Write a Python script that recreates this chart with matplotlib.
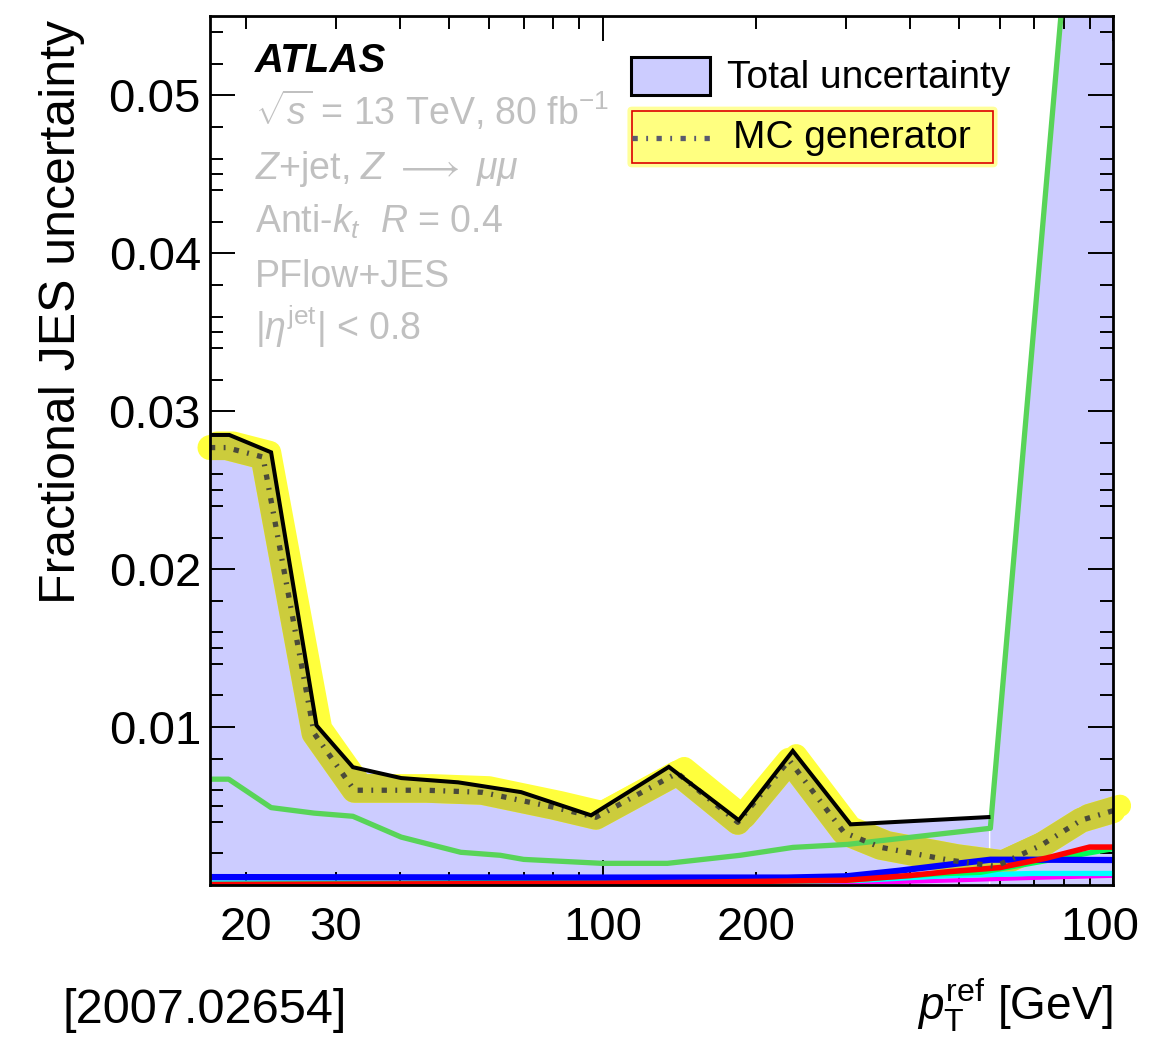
import numpy as np
import matplotlib
matplotlib.use('Agg')
import matplotlib.pyplot as plt
from matplotlib.path import Path
from matplotlib.patches import Rectangle, FancyBboxPatch
from matplotlib.ticker import FixedLocator, NullFormatter, FixedFormatter
from matplotlib.transforms import Bbox, TransformedBbox, offset_copy

plt.rcParams['font.family'] = 'Liberation Sans'
plt.rcParams['mathtext.fontset'] = 'custom'
plt.rcParams['mathtext.rm'] = 'Liberation Sans'
plt.rcParams['mathtext.it'] = 'Liberation Sans:italic'
plt.rcParams['mathtext.bf'] = 'Liberation Sans:bold'

# values (pT in GeV, fractional uncertainty)
total_pt = [17.0, 18.55, 22.4, 27.5, 32.4, 40.3, 52.1, 69.2, 94.9, 134.8, 184.8, 235.8, 306, 570]
total_unc = [0.0285, 0.0285, 0.0274, 0.0101, 0.00746, 0.00677, 0.0065, 0.00588, 0.00441,
             0.00748, 0.0041, 0.00849, 0.00384, 0.0043]

mc_pt = [17.0, 18.3, 21.6, 27.2, 32.6, 45, 58, 80, 97, 140, 184, 232, 297, 350, 480, 589, 722, 866, 1000]
mc_unc = [0.0277, 0.0277, 0.0271, 0.0096, 0.0060, 0.0060, 0.00587, 0.00493, 0.00429, 0.00709,
          0.00397, 0.0079, 0.00333, 0.00239, 0.00156, 0.00118, 0.0025, 0.0041, 0.0047]

green_pt = [17.0, 18.5, 22.4, 27.2, 32.4, 40.3, 52.7, 63, 70, 99.6, 134, 186, 236, 302, 575, 1000]
green_unc = [0.0067, 0.0067, 0.0049, 0.00455, 0.00435, 0.00303, 0.00207, 0.00188, 0.00162,
             0.00137, 0.00137, 0.00188, 0.00238, 0.00257, 0.00359, 0.093]

blue_pt = [17.0, 100, 230, 300, 380, 480, 575, 700, 1000]
blue_unc = [0.0005, 0.00047, 0.00047, 0.00055, 0.0009, 0.0013, 0.0016, 0.0016, 0.00158]

cyan_pt = [17.0, 33, 40, 195, 230, 322, 480, 700, 1000]
cyan_unc = [0.00013, 0.00013, 0.00004, 0.00004, 0.0002, 0.0003, 0.0006, 0.00073, 0.00073]

magenta_pt = [17.0, 100, 300, 500, 700, 1000]
magenta_unc = [0.00005, 0.0001, 0.0001, 0.0003, 0.00045, 0.00058]

lime_pt = [17.0, 300, 450, 550, 620, 1000]
lime_unc = [0.00003, 0.0003, 0.0007, 0.0008, 0.0011, 0.0023]

red_pt = [17.0, 100, 300, 400, 480, 600, 740, 900, 1000]
red_unc = [0.00003, 0.0001, 0.0003, 0.0006, 0.00085, 0.0011, 0.0017, 0.0024, 0.0024]

xtick_vals = [20, 30, 100, 200, 1000]
xtick_text = ['20', '30', '100', '200', '1000']
ytick_vals = [0.01, 0.02, 0.03, 0.04, 0.05]

fig = plt.figure(figsize=(11.53, 10.37), dpi=100)
ax = fig.add_axes([0.1821, 0.1466, 0.7832, 0.8375])
ax.set_xscale('log')
ax.set_xlim(17, 1000)
ax.set_ylim(0, 0.055)

lavender = '#ccccff'
ax.fill_between(total_pt, 0, total_unc, color=lavender, lw=0, zorder=1)
ax.fill_between(green_pt[-2:], 0, green_unc[-2:], color=lavender, lw=0, zorder=1)

# region of the band, used to tint the highlighter where it lies over it
band_verts = [(total_pt[0], 0)] + list(zip(total_pt, total_unc)) + \
    list(zip(green_pt[-2:], green_unc[-2:])) + [(green_pt[-1], 0), (total_pt[0], 0)]
band_path = Path(band_verts)

# highlighter strokes around the MC generator curve
shifted = offset_copy(ax.transData, fig=fig, x=7, y=5, units='dots')
for col, clip in [('#ffff3c', False), ('#cccc3c', True)]:
    for tr, lw in [(shifted, 16), (ax.transData, 18)]:
        ln, = ax.plot(mc_pt, mc_unc, color=col, lw=lw, solid_capstyle='round',
                      solid_joinstyle='round', transform=tr, zorder=3, clip_on=clip)
        if clip:
            ln.set_clip_path(band_path, ax.transData)

# small components along the bottom
for xs, ys, col, lw in [(magenta_pt, magenta_unc, '#ff00ff', 3.0),
                        (cyan_pt, cyan_unc, '#00ffff', 3.8),
                        (lime_pt, lime_unc, '#00ff55', 3.8),
                        (blue_pt, blue_unc, '#0000ff', 4.5),
                        (red_pt, red_unc, '#ff0000', 4.0)]:
    ax.plot(xs, ys, color=col, lw=lw, solid_joinstyle='round', zorder=4)

ax.plot(green_pt, green_unc, color='#58d458', lw=3.8, solid_joinstyle='round', zorder=4)

ax.plot(mc_pt, mc_unc, color='#4a4a3a', lw=3.8, dashes=(1.0, 1.6, 0.35, 1.6),
        dash_capstyle='butt', zorder=5)
ax.plot(total_pt, total_unc, color='black', lw=2.9, solid_joinstyle='miter', zorder=6)

# axes styling
for sp in ax.spines.values():
    sp.set_linewidth(2.0)
    sp.set_zorder(12)
ax.xaxis.set_major_locator(FixedLocator([100, 1000]))
ax.xaxis.set_minor_locator(FixedLocator([20, 30, 40, 50, 60, 70, 80, 90,
                                         200, 300, 400, 500, 600, 700, 800, 900]))
ax.xaxis.set_major_formatter(NullFormatter())
ax.xaxis.set_minor_formatter(NullFormatter())
yminor = [round(v, 3) for v in np.arange(0.001, 0.055, 0.001)
          if (round(v * 1000) % 2 == 0 or round(v * 1000) % 5 == 0) and round(v * 1000) % 10 != 0]
ax.yaxis.set_major_locator(FixedLocator(ytick_vals))
ax.yaxis.set_major_formatter(FixedFormatter(['%.2f' % v for v in ytick_vals]))
ax.yaxis.set_minor_locator(FixedLocator(yminor))
ax.tick_params(which='both', direction='in', top=True, right=True, width=1.4, zorder=12)
ax.tick_params(which='major', length=18, pad=6.5, labelsize=34)
ax.tick_params(which='minor', length=9.4)

# the last label runs off the canvas in the reference; clip it the same way
clip_bb = TransformedBbox(Bbox.from_extents(0, 0, 1139 / 1153, 1), fig.transFigure)
for v, s in zip(xtick_vals, xtick_text):
    t = ax.text(v, -0.0633, s, transform=ax.get_xaxis_transform(), ha='center',
                va='baseline', fontsize=34)
    t.set_clip_on(True)
    t.set_clip_box(clip_bb)

ax.text(-0.164, 0.996, 'Fractional JES uncertainty', rotation=90, transform=ax.transAxes,
        ha='center', va='top', fontsize=36)
fig.text(0.9653, 0.0164, r'$p_{\mathrm{T}}^{\mathrm{ref}}$ [GeV]', ha='right',
         va='baseline', fontsize=33)
fig.text(0.0538, 0.0135, '[2007.02654]', ha='left', va='baseline', fontsize=35)

# ATLAS label block
ax.text(0.0498, 0.936, 'ATLAS', transform=ax.transAxes, fontsize=29, fontweight='bold',
        fontstyle='italic', va='baseline', zorder=10)
gray = '#c0c0c0'
info = [r'$\sqrt{s}$ = 13 TeV, 80 fb$^{\mathrm{-1}}$',
        r'$Z$+jet, $Z$ $\longrightarrow$ $\mu\mu$',
        r'Anti-$k_{t}$  $R$ = 0.4',
        'PFlow+JES',
        r'|$\eta^{\mathrm{jet}}$| < 0.8']
info_y = [0.875, 0.8129, 0.7507, 0.6885, 0.6275]
for s, y in zip(info, info_y):
    ax.text(0.0498, y, s, transform=ax.transAxes, fontsize=27, color=gray,
            va='baseline', zorder=10)

# legend
ax.add_patch(Rectangle((0.4659, 0.9096), 0.0878, 0.0441, transform=ax.transAxes,
                       fc=lavender, ec='black', lw=2.2, zorder=10))
ax.text(0.5725, 0.9173, 'Total uncertainty', transform=ax.transAxes, fontsize=28,
        va='baseline', zorder=10)
ax.add_patch(FancyBboxPatch((0.4673, 0.8313), 0.3998, 0.0599, boxstyle='round,pad=0.005',
                            transform=ax.transAxes, fc='#ffff55', ec='none', alpha=0.6,
                            zorder=9))
ax.add_patch(Rectangle((0.4673, 0.8313), 0.3998, 0.0599, transform=ax.transAxes,
                       fc='#ffff80', ec='#dd0000', lw=1.2, zorder=10))
ax.plot([0.4673, 0.5592], [0.8606, 0.8606], transform=ax.transAxes, color='#5a5a6e',
        lw=3.8, dashes=(1.0, 1.6, 0.35, 1.6), dash_capstyle='butt', zorder=11)
ax.text(0.579, 0.8483, 'MC generator', transform=ax.transAxes, fontsize=28,
        va='baseline', zorder=11)

fig.savefig('out.png', dpi=100)
